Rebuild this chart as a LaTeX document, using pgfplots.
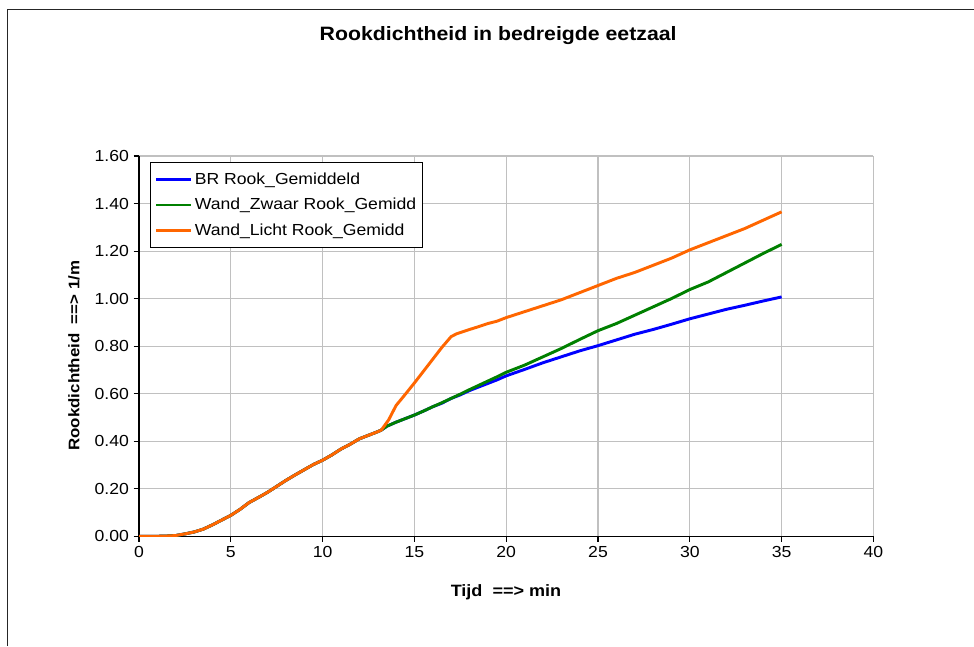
\documentclass[border=0pt]{standalone}
\usepackage{pgfplots}
\pgfplotsset{compat=1.18}
\usepackage{fontspec}
\setmainfont{Liberation Sans}[FakeStretch=1.1]

\definecolor{brColor}{RGB}{0,0,255}
\definecolor{zwaarColor}{RGB}{0,128,0}
\definecolor{lichtColor}{RGB}{255,102,0}
\definecolor{gridColor}{RGB}{192,192,192}

\begin{document}
\begin{tikzpicture}
% page = 974 x 646 px at 0.75pt per px
\useasboundingbox (0,0) rectangle (730.5pt,484.5pt);
\draw[line width=1.2pt, black!85] (5.6pt,0pt) -- (5.6pt,477.4pt) -- (730.5pt,477.4pt);
\begin{axis}[
    at={(104.25pt,82.3pt)},
    anchor=origin,
    scale only axis,
    width=550.8pt,
    height=285.2pt,
    xmin=0, xmax=40,
    ymin=0, ymax=1.6,
    xtick={0,5,...,40},
    ytick={0,0.2,...,1.6},
    yticklabel style={/pgf/number format/.cd,fixed,fixed zerofill,precision=2},
    /pgf/number format/assume math mode=true,
    tick label style={font=\fontsize{12}{14}\selectfont},
    axis x line*=bottom,
    axis y line*=left,
    axis line style={black, line width=0.8pt},
    tick style={black, line width=0.8pt},
    tick align=outside,
    major tick length=4pt,
    grid=major,
    grid style={gridColor, line width=0.8pt},
    xlabel={Tijd\ \ ==> min},
    ylabel={Rookdichtheid\ \ ==> 1/m},
    every axis x label/.style={at={(axis description cs:0.4997,-0.146)}, anchor=center,
        font=\bfseries\fontsize{12.3}{14}\selectfont},
    every axis y label/.style={at={(axis description cs:-0.0885,0.475)}, rotate=90, anchor=center,
        font=\bfseries\fontsize{11.5}{13}\selectfont},
    title={Rookdichtheid in bedreigde eetzaal},
    title style={font=\bfseries\fontsize{14.5}{17}\selectfont, at={(axis description cs:0.489,1.297)}, anchor=center},
    legend style={at={(axis description cs:0.015,0.984)}, anchor=north west,
        draw=black, line width=0.8pt, fill=white,
        font=\fontsize{12}{14}\selectfont,
        row sep=5pt, inner xsep=3pt, inner ysep=5.5pt},
    legend cell align=left,
    legend image code/.code={\draw[#1, line width=2.2pt] (0pt,0pt) -- (26pt,0pt);},
]
\addplot[brColor, line width=2.2pt] coordinates {
(0,0) (1,0) (1.5,0.001) (2,0.003) (2.5,0.01) (3,0.018) (3.5,0.03) (4,0.048)
(4.5,0.068) (5,0.088) (5.5,0.113) (6,0.142) (6.5,0.163) (7,0.185) (7.5,0.21)
(8,0.235) (8.5,0.258) (9,0.28) (9.5,0.302) (10,0.32) (10.5,0.342) (11,0.367)
(11.5,0.387) (12,0.41) (12.5,0.425) (13,0.44) (13.2,0.447) (13.5,0.463)
(14,0.48) (14.5,0.495) (15,0.51) (15.5,0.527) (16,0.545) (16.5,0.56) (17,0.58)
(17.5,0.595) (18,0.613) (18.5,0.628) (19,0.643) (19.5,0.658) (20,0.675)
(21,0.702) (22,0.73) (23,0.755) (24,0.78) (25,0.802) (26,0.826) (27,0.85)
(28,0.87) (29,0.892) (30,0.915) (31,0.935) (32,0.955) (33,0.972) (34,0.99)
(35,1.007)
};
\addlegendentry{BR Rook\_Gemiddeld}
\addplot[zwaarColor, line width=2.2pt] coordinates {
(0,0) (1,0) (1.5,0.001) (2,0.003) (2.5,0.01) (3,0.018) (3.5,0.03) (4,0.048)
(4.5,0.068) (5,0.088) (5.5,0.113) (6,0.142) (6.5,0.163) (7,0.185) (7.5,0.21)
(8,0.235) (8.5,0.258) (9,0.28) (9.5,0.302) (10,0.32) (10.5,0.342) (11,0.367)
(11.5,0.387) (12,0.41) (12.5,0.425) (13,0.44) (13.2,0.447) (13.5,0.463)
(14,0.48) (14.5,0.495) (15,0.51) (15.5,0.527) (16,0.545) (16.5,0.562) (17,0.58)
(17.5,0.598) (18,0.617) (18.5,0.635) (19,0.653) (19.5,0.671) (20,0.69)
(21,0.72) (22,0.755) (23,0.79) (24,0.828) (25,0.865) (26,0.895) (27,0.93)
(28,0.965) (29,1.0) (30,1.038) (31,1.07) (32,1.11) (33,1.15) (34,1.19)
(35,1.228)
};
\addlegendentry{Wand\_Zwaar Rook\_Gemidd}
\addplot[lichtColor, line width=2.2pt] coordinates {
(0,0) (1,0) (1.5,0.001) (2,0.003) (2.5,0.01) (3,0.018) (3.5,0.03) (4,0.048)
(4.5,0.068) (5,0.088) (5.5,0.113) (6,0.142) (6.5,0.163) (7,0.185) (7.5,0.21)
(8,0.235) (8.5,0.258) (9,0.28) (9.5,0.302) (10,0.32) (10.5,0.342) (11,0.367)
(11.5,0.387) (12,0.41) (12.5,0.425) (13,0.44) (13.2,0.447) (13.6,0.49)
(14,0.55) (14.5,0.597) (15,0.645) (15.5,0.695) (16,0.745) (16.5,0.795)
(17,0.84) (17.3,0.852) (17.5,0.857) (18,0.87) (18.5,0.882) (19,0.895)
(19.5,0.905) (20,0.92) (21,0.945) (22,0.97) (23,0.995) (24,1.025) (25,1.055)
(26,1.085) (27,1.11) (28,1.14) (29,1.17) (30,1.205) (31,1.235) (32,1.265)
(33,1.295) (34,1.33) (35,1.365)
};
\addlegendentry{Wand\_Licht Rook\_Gemidd}
\end{axis}
\end{tikzpicture}
\end{document}
